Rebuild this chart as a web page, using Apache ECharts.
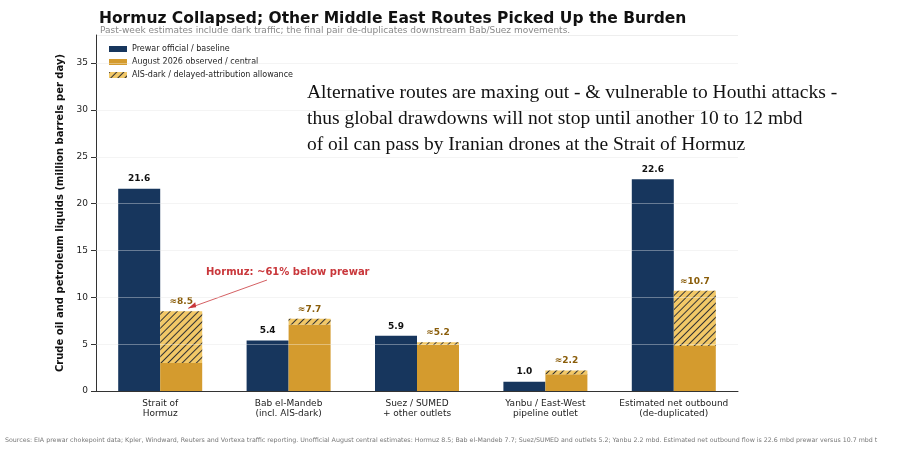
<!doctype html>
<html>
<head>
<meta charset="utf-8">
<script src="https://cdn.jsdelivr.net/npm/echarts@6/dist/echarts.min.js"></script>
<style>html,body{margin:0;background:#fff}#main{width:904px;height:451px}</style>
</head>
<body>
<div id="main"></div>
<script>
var categories = ['Strait of\nHormuz', 'Bab el-Mandeb\n(incl. AIS-dark)', 'Suez / SUMED\n+ other outlets', 'Yanbu / East-West\npipeline outlet', 'Estimated net outbound\n(de-duplicated)'];
var prewar = [21.6, 5.4, 5.9, 1.0, 22.6];
var observed = [3.0, 7.1, 4.9, 1.8, 4.8];
var central = [8.5, 7.7, 5.2, 2.2, 10.7];
var allowance = central.map(function (c, i) { return +(c - observed[i]).toFixed(2); });

var chart = echarts.init(document.getElementById('main'));
var font = 'DejaVu Sans';
chart.setOption({
    animation: false,
    textStyle: { fontFamily: font },
    title: [{
        text: 'Hormuz Collapsed; Other Middle East Routes Picked Up the Burden',
        left: 94, top: 6,
        textStyle: { fontSize: 15.5, fontWeight: 'bold', color: '#111' }
    }, {
        text: 'Past-week estimates include dark traffic; the final pair de-duplicates downstream Bab/Suez movements.',
        left: 95, top: 21,
        textStyle: { fontSize: 9, fontWeight: 'normal', color: '#888' }
    }, {
        text: 'Alternative routes are maxing out - & vulnerable to Houthi attacks -\nthus global drawdowns will not stop until another 10 to 12 mbd\nof oil can pass by Iranian drones at the Strait of Hormuz',
        left: 302, top: 75,
        textStyle: { fontSize: 19.5, fontWeight: 'normal', color: '#111', fontFamily: 'Liberation Serif', lineHeight: 26 }
    }, {
        text: 'Sources: EIA prewar chokepoint data; Kpler, Windward, Reuters and Vortexa traffic reporting. Unofficial August central estimates: Hormuz 8.5; Bab el-Mandeb 7.7; Suez/SUMED and outlets 5.2; Yanbu 2.2 mbd. Estimated net outbound flow is 22.6 mbd prewar versus 10.7 mbd t',
        left: 0, top: 432,
        textStyle: { fontSize: 6.3, fontWeight: 'normal', color: '#777' }
    }],
    legend: {
        left: 104, top: 40, orient: 'vertical', itemGap: 5, itemWidth: 18, itemHeight: 6,
        icon: 'rect',
        textStyle: { fontSize: 8, color: '#222' },
        data: ['Prewar official / baseline', 'August 2026 observed / central', 'AIS-dark / delayed-attribution allowance']
    },
    grid: { left: 96, right: 166, top: 35, bottom: 60 },
    xAxis: {
        type: 'category', data: categories,
        axisLine: { lineStyle: { color: '#333' } },
        axisTick: { alignWithLabel: true, lineStyle: { color: '#333' } },
        axisLabel: { fontSize: 9, color: '#222', lineHeight: 10, interval: 0 }
    },
    yAxis: {
        type: 'value', min: 0, max: 38, interval: 5,
        name: 'Crude oil and petroleum liquids (million barrels per day)',
        nameLocation: 'middle', nameGap: 22,
        nameTextStyle: { fontSize: 10, fontWeight: 'bold', color: '#111' },
        axisLine: { show: true, lineStyle: { color: '#333' } },
        axisTick: { show: true, lineStyle: { color: '#333' } },
        axisLabel: { fontSize: 9, color: '#222', showMaxLabel: false },
        splitLine: { lineStyle: { color: '#eee' } }
    },
    series: [{
        name: 'Prewar official / baseline', type: 'bar', stack: 'a', data: prewar,
        barWidth: 42, barGap: '0%',
        itemStyle: { color: '#17365d' },
        label: { show: true, position: 'top', fontSize: 9, fontWeight: 'bold', color: '#111', formatter: function (p) { return p.value.toFixed(1); } },
        markLine: {
            silent: true, symbol: 'none', z: 10, label: { show: false },
            lineStyle: { color: 'rgba(255,255,255,0.35)', type: 'solid', width: 1 },
            data: [5, 10, 15, 20, 25, 30, 35].map(function (v) { return { yAxis: v }; })
        }
    }, {
        name: 'August 2026 observed / central', type: 'bar', stack: 'b', data: observed,
        barWidth: 42, barGap: '0%',
        itemStyle: { color: '#d49b2e' }
    }, {
        name: 'AIS-dark / delayed-attribution allowance', type: 'bar', stack: 'b', data: allowance,
        barWidth: 42, barGap: '0%',
        itemStyle: {
            color: '#f2c867',
            decal: { symbol: 'rect', color: '#333', dashArrayX: [1, 0], dashArrayY: [1, 4], rotation: -Math.PI / 4, symbolSize: 1 }
        },
        label: { show: true, position: 'top', fontSize: 9, fontWeight: 'bold', color: '#8a5d0a',
            formatter: function (p) { return '≈' + central[p.dataIndex].toFixed(1); } }
    }]
});

// annotation arrow pointing at the Hormuz central estimate
var tip = chart.convertToPixel({ gridIndex: 0 }, [0, central[0]]);
var tx = tip[0] + 28, ty = tip[1] - 3;
chart.setOption({
    graphic: [{
        type: 'text', left: 206, top: 267,
        style: { text: 'Hormuz: ~61% below prewar', fontSize: 10, fontWeight: 'bold', fill: '#c9373b', fontFamily: font }
    }, {
        type: 'line', silent: true,
        shape: { x1: 267, y1: 280, x2: tx, y2: ty },
        style: { stroke: '#c9373b', lineWidth: 0.8 }
    }, {
        type: 'polygon', silent: true,
        shape: { points: [[tx, ty], [tx + 7, ty - 6], [tx + 8, ty - 1]] },
        style: { fill: '#c9373b' }
    }]
});
window.onresize = chart.resize;
</script>
</body>
</html>
